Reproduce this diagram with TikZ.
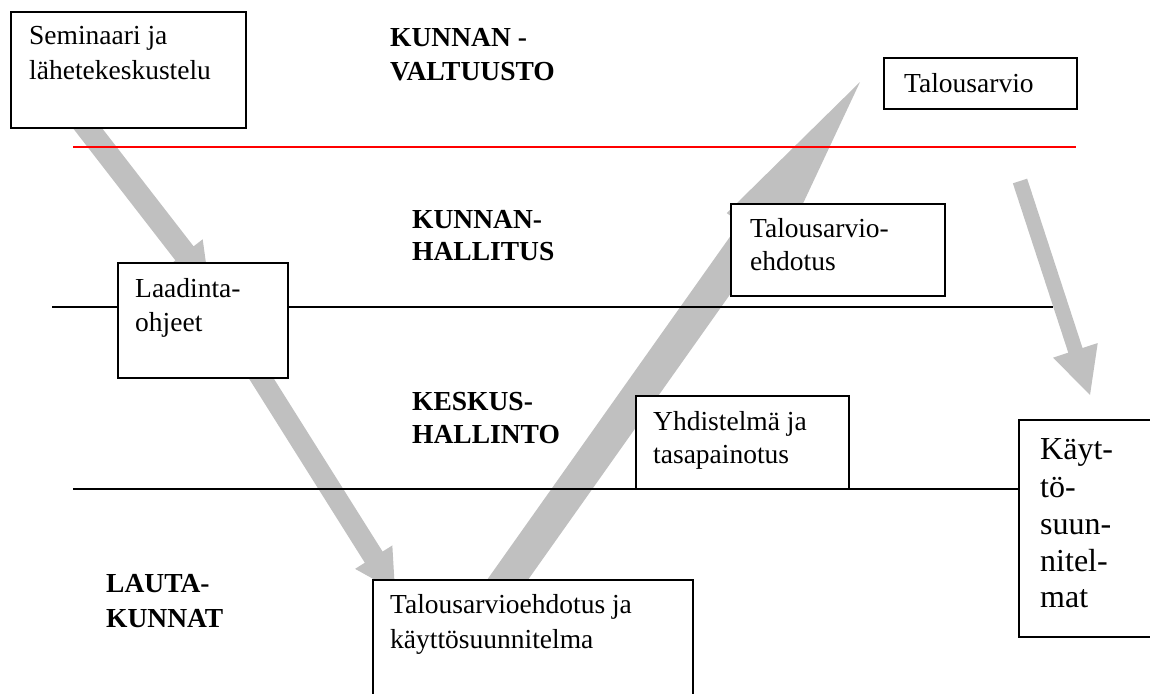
\documentclass[tikz,border=0pt]{standalone}
\usepackage{fontspec}
\setmainfont{Liberation Serif}
\usetikzlibrary{calc}
\definecolor{flowgray}{HTML}{C0C0C0}
\definecolor{councilred}{HTML}{FF0000}
\tikzset{
  box/.style={draw=black, line width=1.8pt, fill=white, anchor=north west, inner sep=0pt},
  lbl/.style={anchor=base west, inner sep=0pt, font=\fontsize{27.5}{34}\selectfont},
  biglbl/.style={anchor=base west, inner sep=0pt, font=\fontsize{32}{37}\selectfont},
  lane/.style={anchor=base west, inner sep=0pt, font=\bfseries\fontsize{27.5}{34}\selectfont},
  divider/.style={draw=black, line width=1.8pt},
  reddivider/.style={draw=councilred, line width=2pt},
}
% gray block arrow: tail, tip, base name, half shaft width, half head width, head length
\newcommand\flowarrow[6]{%
  \coordinate (#3) at ($(#2)!#6!(#1)$);
  \fill[flowgray] ($(#1)!#4!90:(#2)$) -- ($(#3)!#4!-90:(#1)$) -- ($(#3)!#5!-90:(#1)$)
    -- (#2) -- ($(#3)!#5!90:(#1)$) -- ($(#3)!#4!90:(#1)$) -- ($(#1)!#4!-90:(#2)$) -- cycle;
}
\begin{document}
\begin{tikzpicture}[x=1pt,y=-1pt]
\useasboundingbox (0,0) rectangle (1150,693);
\begin{scope}
\clip (0,0) rectangle (1150,693);

% arrow end points
\coordinate (a1s) at (68,103);
\coordinate (a1e) at (209,285);
\coordinate (a2s) at (239,343);
\coordinate (a2e) at (395,591);
\coordinate (a3s) at (472,630);
\coordinate (a3e) at (860,82);
\coordinate (a4s) at (1020,181);
\coordinate (a4e) at (1090,395);

\flowarrow{a1s}{a1e}{a1h}{11.5pt}{23pt}{40pt}
\flowarrow{a2s}{a2e}{a2h}{10.5pt}{22pt}{40pt}
\flowarrow{a3s}{a3e}{a3h}{16.7pt}{33pt}{184pt}
\flowarrow{a4s}{a4e}{a4h}{7.5pt}{23.5pt}{47pt}

% level dividers
\coordinate (r1) at (73,147);
\coordinate (r2) at (1076,147);
\coordinate (b1) at (52,307);
\coordinate (b2) at (1053,307);
\coordinate (c1) at (73,489);
\coordinate (c2) at (1018,489);
\draw[reddivider] (r1) -- (r2);
\draw[divider] (b1) -- (b2);
\draw[divider] (c1) -- (c2);

% boxes
\node[box, minimum width=235pt, minimum height=116pt] (sem) at (10,11) {};
\node[box, minimum width=170pt, minimum height=115pt] (laad) at (117,262) {};
\node[box, minimum width=193pt, minimum height=51pt] (talo) at (883,57) {};
\node[box, minimum width=214pt, minimum height=92pt] (tehd) at (730,203) {};
\node[box, minimum width=213pt, minimum height=93pt] (yhd) at (635,395) {};
\node[box, minimum width=320pt, minimum height=140pt] (bott) at (372,579) {};
\node[box, minimum width=160pt, minimum height=217pt] (kayt) at (1018,419) {};

% box texts
\node[lbl] (sem1) at (29,45) {Seminaari ja};
\node[lbl] (sem2) at (29,79) {lähetekeskustelu};
\node[lbl] (laad1) at (135,297) {Laadinta-};
\node[lbl] (laad2) at (135,331) {ohjeet};
\node[lbl] (talo1) at (904,92) {Talousarvio};
\node[lbl] (tehd1) at (750,237) {Talousarvio-};
\node[lbl] (tehd2) at (750,270) {ehdotus};
\node[lbl] (yhd1) at (653,430) {Yhdistelmä ja};
\node[lbl] (yhd2) at (653,463) {tasapainotus};
\node[lbl] (bott1) at (390,613) {Talousarvioehdotus ja};
\node[lbl] (bott2) at (390,648) {käyttösuunnitelma};
\node[biglbl] (kayt1) at (1040,459) {Käyt-};
\node[biglbl] (kayt2) at (1040,497) {tö-};
\node[biglbl] (kayt3) at (1040,534) {suun-};
\node[biglbl] (kayt4) at (1040,571) {nitel-};
\node[biglbl] (kayt5) at (1040,607) {mat};

% level names
\node[lane] (v1) at (390,46) {KUNNAN -};
\node[lane] (v2) at (390,80) {VALTUUSTO};
\node[lane] (h1) at (412,228) {KUNNAN-};
\node[lane] (h2) at (412,260) {HALLITUS};
\node[lane] (k1) at (412,410) {KESKUS-};
\node[lane] (k2) at (412,443) {HALLINTO};
\node[lane] (l1) at (106,592) {LAUTA-};
\node[lane] (l2) at (106,627) {KUNNAT};
\end{scope}
\end{tikzpicture}
\end{document}
